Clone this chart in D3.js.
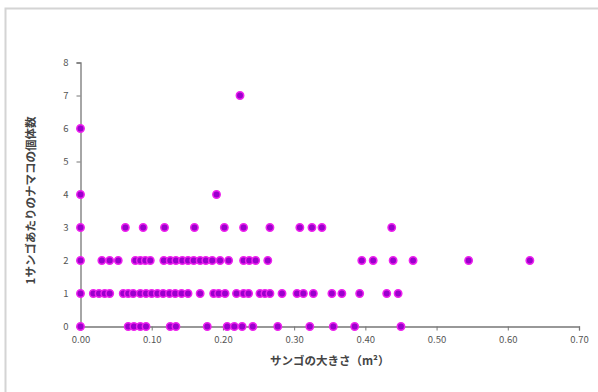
<!DOCTYPE html>
<html>
<head>
<meta charset="utf-8">
<script src="https://cdn.jsdelivr.net/npm/d3@7"></script>
<style>
  html, body { margin: 0; padding: 0; background: #fff; }
  svg { display: block; }
</style>
</head>
<body>
<div id="chart"></div>
<script>
// sea cucumbers per coral vs coral size (m2), one array per count row
const row0 = [0.00, 0.067, 0.075, 0.084, 0.092, 0.126, 0.134, 0.178, 0.206, 0.216, 0.227, 0.242, 0.277, 0.322, 0.355, 0.385, 0.450];
const row1 = [0.00, 0.018, 0.026, 0.034, 0.041, 0.060, 0.067, 0.074, 0.084, 0.092, 0.100, 0.108, 0.116, 0.125, 0.133, 0.142, 0.151, 0.168, 0.187, 0.194, 0.203, 0.219, 0.229, 0.236, 0.252, 0.259, 0.266, 0.283, 0.304, 0.313, 0.327, 0.353, 0.367, 0.392, 0.430, 0.446];
const row2 = [0.00, 0.030, 0.041, 0.053, 0.077, 0.084, 0.091, 0.098, 0.117, 0.126, 0.134, 0.143, 0.151, 0.159, 0.168, 0.176, 0.185, 0.196, 0.208, 0.229, 0.237, 0.246, 0.263, 0.395, 0.411, 0.439, 0.467, 0.545, 0.631];
const row3 = [0.00, 0.063, 0.088, 0.118, 0.160, 0.202, 0.229, 0.266, 0.308, 0.325, 0.339, 0.437];
const row4 = [0.00, 0.191];
const row6 = [0.00];
const row7 = [0.224];

const xTicks = [0, 0.1, 0.2, 0.3, 0.4, 0.5, 0.6, 0.7];
const yTicks = [0, 1, 2, 3, 4, 5, 6, 7, 8];
const xTitle = 'サンゴの大きさ（m²）';
const yTitle = '1サンゴあたりのナマコの個体数';

const rows = [[0, row0], [1, row1], [2, row2], [3, row3], [4, row4], [6, row6], [7, row7]];
const points = [];
rows.forEach(([count, xs]) => xs.forEach(x => points.push({ x, y: count })));

const width = 598, height = 392;
const margin = { top: 62.5, right: 19, bottom: 65.5, left: 80.5 };

const svg = d3.select('#chart')
  .append('svg')
    .attr('width', width)
    .attr('height', height);

// chart frame
svg.append('rect')
  .attr('x', 5.5).attr('y', 8.5)
  .attr('width', width + 10).attr('height', height + 10)
  .attr('fill', '#fff')
  .attr('stroke', '#d4d4d4')
  .attr('stroke-width', 2);

const xScale = d3.scaleLinear()
  .domain([0, 0.7])
  .range([margin.left, width - margin.right]);

const yScale = d3.scaleLinear()
  .domain([0, 8])
  .range([height - margin.bottom, margin.top]);

const font = '"Noto Sans CJK JP", "Noto Sans", sans-serif';

const xAxis = svg.append('g')
  .attr('transform', `translate(0, ${yScale(0)})`)
  .call(d3.axisBottom(xScale).tickValues(xTicks).tickFormat(d3.format('.2f')).tickSizeOuter(0).tickSize(4).tickPadding(6));

const yAxis = svg.append('g')
  .attr('transform', `translate(${xScale(0)}, 0)`)
  .call(d3.axisLeft(yScale).tickValues(yTicks).tickFormat(d3.format('d')).tickSizeOuter(0).tickSize(4).tickPadding(8));

[xAxis, yAxis].forEach(g => {
  g.select('.domain').attr('stroke', '#777').attr('stroke-width', 1.3);
  g.selectAll('.tick line').attr('stroke', '#777');
  g.selectAll('.tick text')
    .attr('fill', '#555')
    .style('font-family', font)
    .style('font-size', '9.5px');
});

// markers
svg.append('g')
  .selectAll('circle')
  .data(points)
  .join('circle')
    .attr('cx', d => xScale(d.x))
    .attr('cy', d => yScale(d.y))
    .attr('r', 3.7)
    .attr('fill', '#9a00cc')
    .attr('stroke', '#ee22ee')
    .attr('stroke-width', 1.5);

// titles
svg.append('text')
  .attr('x', (xScale.range()[0] + xScale.range()[1]) / 2)
  .attr('y', 365)
  .attr('text-anchor', 'middle')
  .attr('fill', '#444')
  .style('font-family', font)
  .style('font-size', '11.5px')
  .style('font-weight', 'bold')
  .text(xTitle);

svg.append('text')
  .attr('transform', `translate(35, ${(yScale.range()[0] + yScale.range()[1]) / 2 + 6}) rotate(-90)`)
  .attr('text-anchor', 'middle')
  .attr('fill', '#444')
  .style('font-family', font)
  .style('font-size', '11.5px')
  .style('font-weight', 'bold')
  .text(yTitle);
</script>
</body>
</html>
